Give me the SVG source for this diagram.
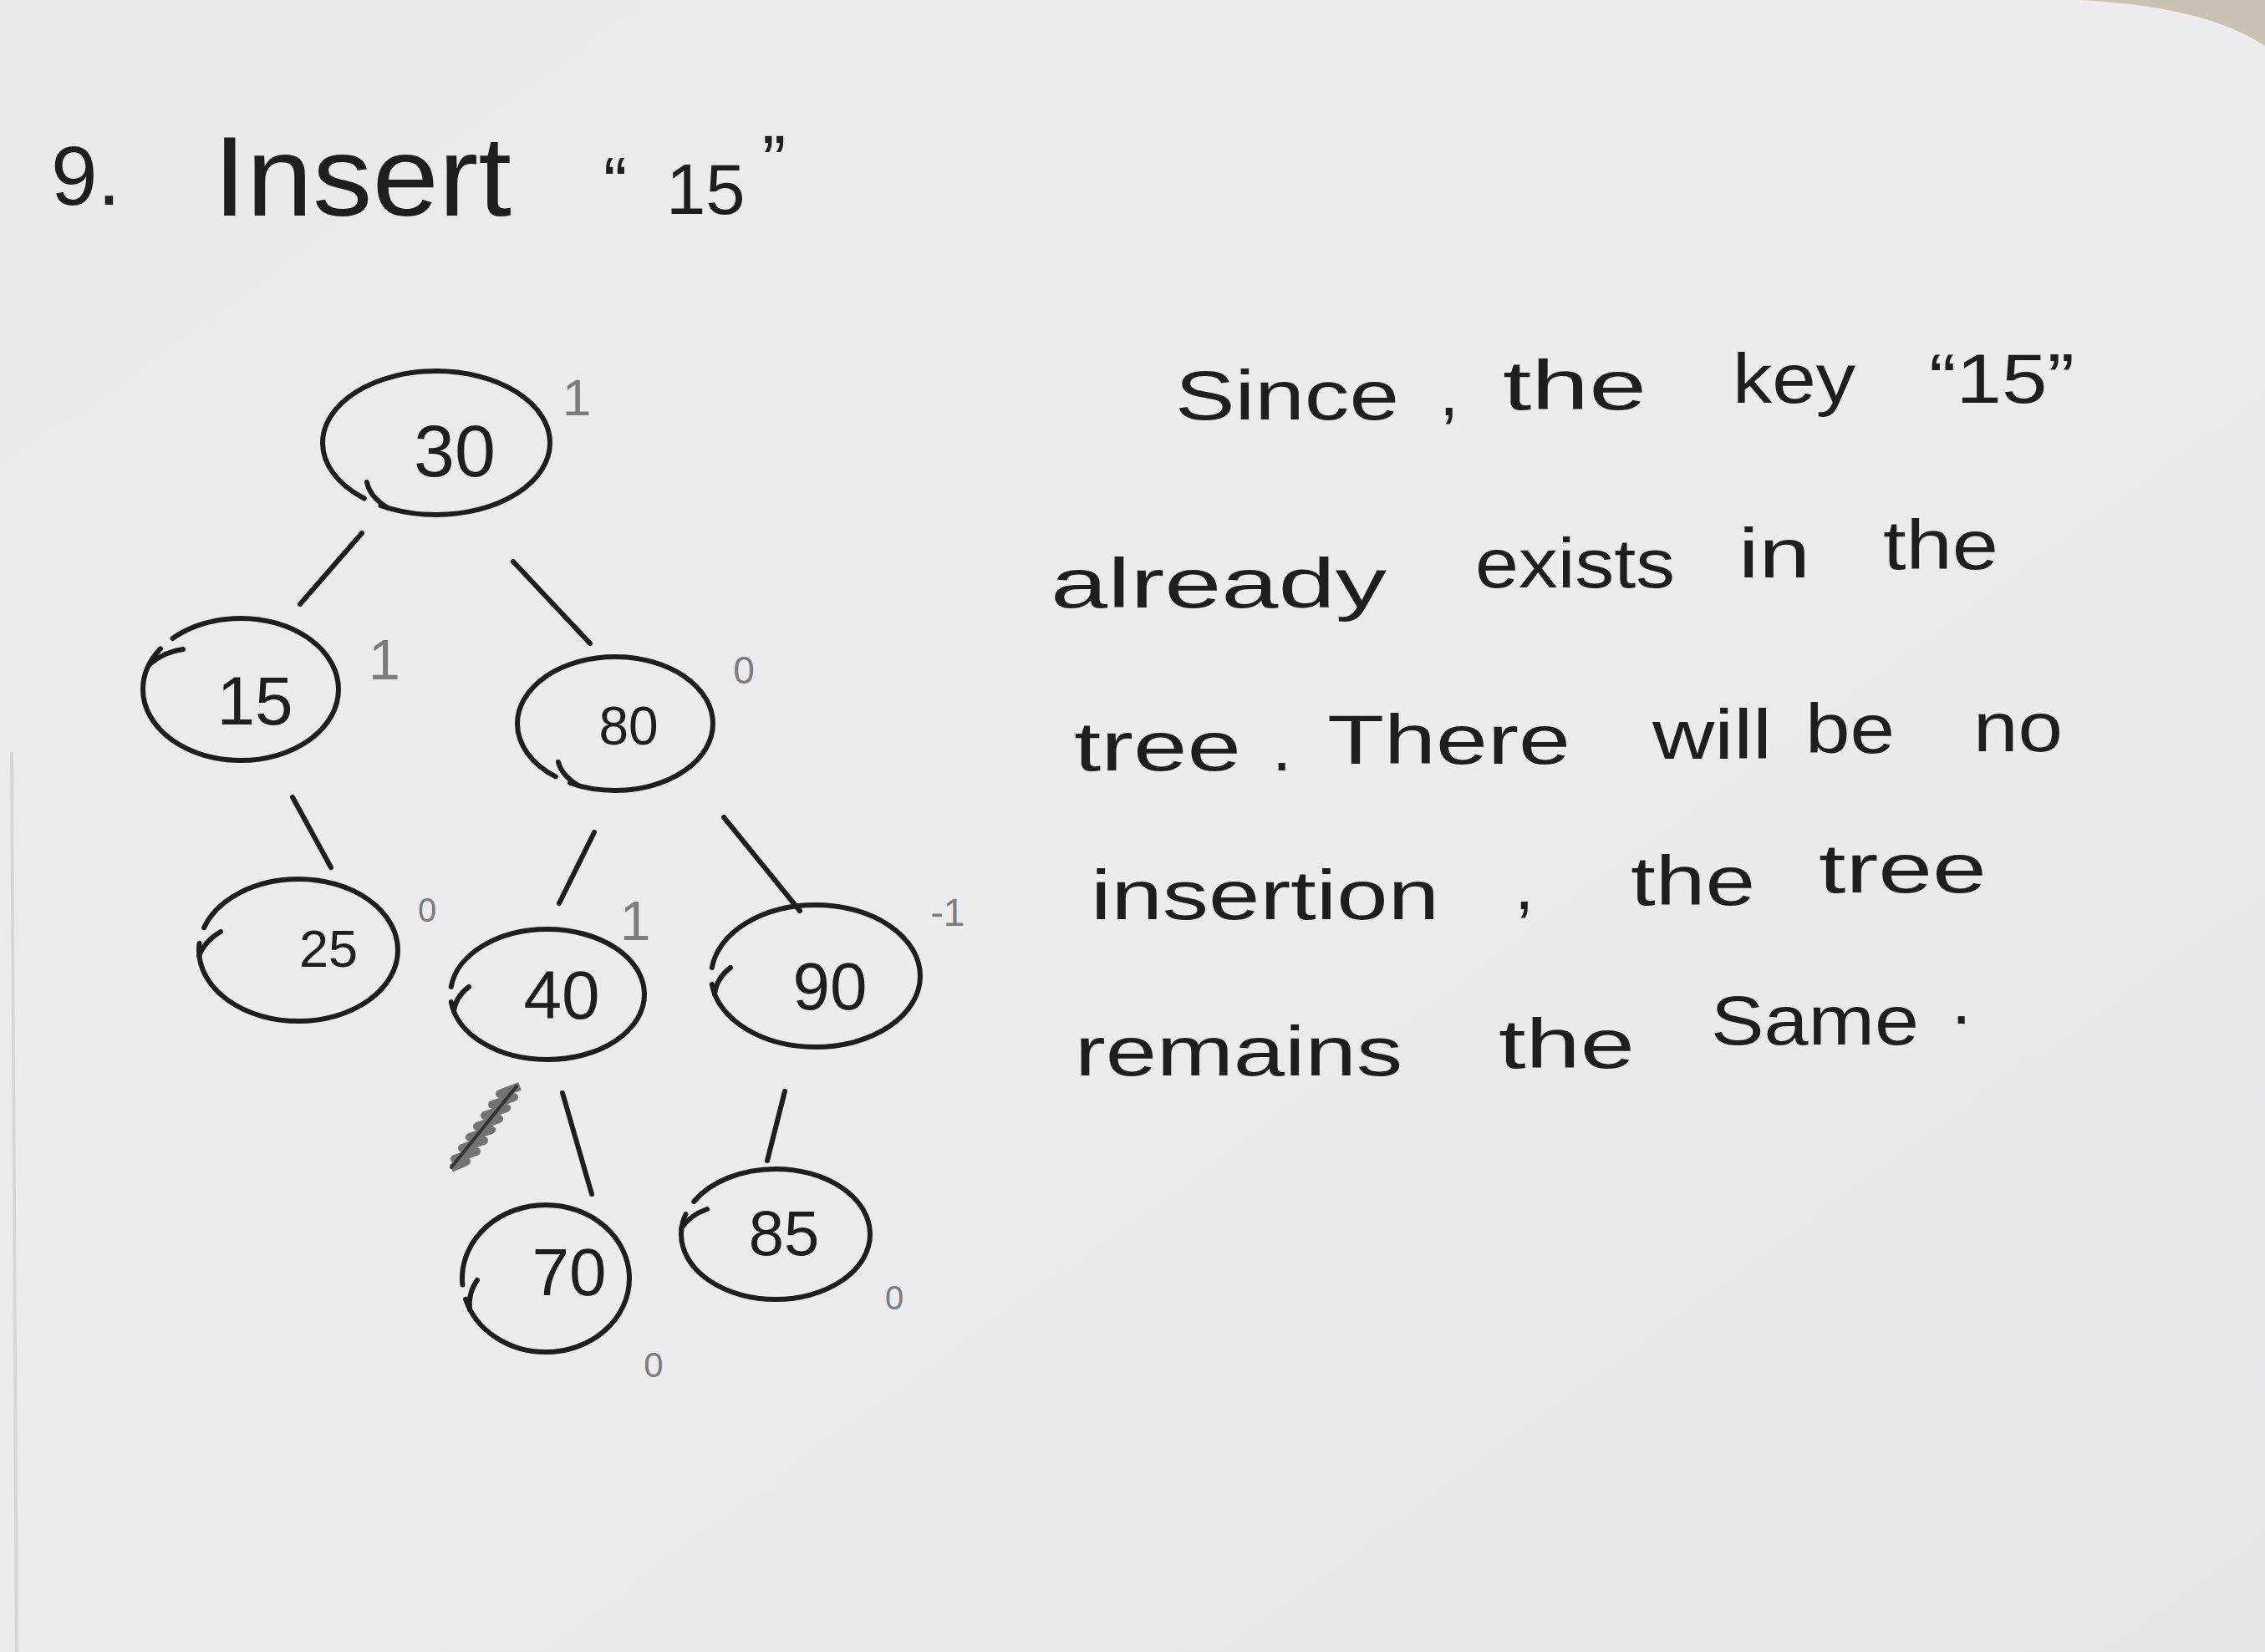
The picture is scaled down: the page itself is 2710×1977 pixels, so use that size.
<svg xmlns="http://www.w3.org/2000/svg" width="2710" height="1977" viewBox="0 0 2710 1977">
<defs>
<linearGradient id="paper" x1="0" y1="0" x2="1" y2="1">
<stop offset="0" stop-color="#eaeaec"/>
<stop offset="0.5" stop-color="#ececee"/>
<stop offset="1" stop-color="#e6e4e8"/>
</linearGradient>
<style>
.ink{fill:#1e1e20;font-family:"Liberation Sans",Arial,sans-serif}
.pencil{fill:#7c7c7e;font-family:"Liberation Sans",Arial,sans-serif;text-anchor:middle}
.label{fill:#1e1e20;font-family:"Liberation Sans",Arial,sans-serif;text-anchor:middle}
.ring{fill:none;stroke:#1e1e20;stroke-width:6;stroke-linecap:round;stroke-dasharray:97 3}
.hook{fill:none;stroke:#1e1e20;stroke-width:6;stroke-linecap:round}
.edge{stroke:#1e1e20;stroke-width:6;stroke-linecap:round}
.para{font-size:84px}
</style>
</defs>
<rect width="2710" height="1977" fill="url(#paper)"/>
<path d="M2490 0 Q2640 8 2710 55 L2710 0 Z" fill="#c9c1b4"/>
<path d="M14 900 L20 1977" stroke="#d8d6da" stroke-width="4" fill="none"/>

<g id="title">
<text class="ink" x="61" y="245" font-size="100">9.</text>
<text class="ink" x="255" y="258" font-size="135" textLength="357" lengthAdjust="spacingAndGlyphs">Insert</text>
<text class="ink" font-size="85"><tspan x="722" y="248">“</tspan><tspan x="797" y="256">15</tspan><tspan x="912" y="222">”</tspan></text>
</g>

<g id="connectors">
<line class="edge" x1="433" y1="638" x2="359" y2="723"/>
<line class="edge" x1="614" y1="672" x2="706" y2="770"/>
<line class="edge" x1="350" y1="954" x2="396" y2="1038"/>
<line class="edge" x1="711" y1="996" x2="669" y2="1081"/>
<line class="edge" x1="866" y1="978" x2="957" y2="1090"/>
<line class="edge" x1="673" y1="1308" x2="708" y2="1429"/>
<line class="edge" x1="939" y1="1306" x2="918" y2="1389"/>
</g>

<g id="node-30">
<ellipse class="ring" cx="522" cy="530" rx="136" ry="86" pathLength="100" stroke-dashoffset="62.4"/>
<path class="hook" d="M439 577 Q442 594 464 608"/>
<text class="label" x="544" y="570" font-size="88">30</text>
</g>
<g id="node-15">
<ellipse class="ring" cx="288" cy="825" rx="117" ry="85" pathLength="100" stroke-dashoffset="38.5"/>
<path class="hook" d="M219 777 Q196 780 179 795"/>
<text class="label" x="305" y="867" font-size="82">15</text>
</g>
<g id="node-80">
<ellipse class="ring" cx="736" cy="866" rx="117" ry="80" pathLength="100" stroke-dashoffset="63.2"/>
<path class="hook" d="M668 912 Q672 928 692 940"/>
<text class="label" x="752" y="891" font-size="64">80</text>
</g>
<g id="node-25">
<ellipse class="ring" cx="357" cy="1137" rx="119" ry="85" pathLength="100" stroke-dashoffset="45.7"/>
<path class="hook" d="M264 1115 Q245 1126 238 1144"/>
<text class="label" x="393" y="1157" font-size="63">25</text>
</g>
<g id="node-40">
<ellipse class="ring" cx="655" cy="1190" rx="116" ry="78" pathLength="100" stroke-dashoffset="48.5"/>
<path class="hook" d="M561 1181 Q545 1193 543 1210"/>
<text class="label" x="672" y="1219" font-size="82">40</text>
</g>
<g id="node-90">
<ellipse class="ring" cx="976" cy="1168" rx="125" ry="85" pathLength="100" stroke-dashoffset="48.5"/>
<path class="hook" d="M874 1158 Q857 1171 855 1190"/>
<text class="label" x="993" y="1208" font-size="80">90</text>
</g>
<g id="node-70">
<ellipse class="ring" cx="653" cy="1530" rx="100" ry="88" pathLength="100" stroke-dashoffset="51.3"/>
<path class="hook" d="M571 1532 Q560 1547 562 1567"/>
<text class="label" x="681" y="1550" font-size="80">70</text>
</g>
<g id="node-85">
<ellipse class="ring" cx="928" cy="1477" rx="113" ry="78" pathLength="100" stroke-dashoffset="42.9"/>
<path class="hook" d="M846 1447 Q826 1454 815 1470"/>
<text class="label" x="938" y="1502" font-size="76">85</text>
</g>

<g id="balance-factors">
<text class="pencil" x="690" y="497" font-size="62">1</text>
<text class="pencil" x="460" y="813" font-size="68">1</text>
<text class="pencil" x="890" y="818" font-size="46">0</text>
<text class="pencil" x="511" y="1103" font-size="40">0</text>
<text class="pencil" x="760" y="1125" font-size="66">1</text>
<text class="pencil" x="1134" y="1108" font-size="46">-1</text>
<text class="pencil" x="1070" y="1567" font-size="40">0</text>
<text class="pencil" x="782" y="1648" font-size="42">0</text>
</g>

<g id="scribble">
<path d="M622 1300 L598 1309 L615 1313 L589 1322 L606 1326 L580 1335 L597 1339 L571 1348 L588 1352 L562 1361 L579 1365 L553 1374 L570 1378 L544 1387 L558 1390 L540 1398" fill="none" stroke="#5e5e60" stroke-width="10" stroke-linejoin="round" opacity="0.85"/>
<line x1="618" y1="1300" x2="540" y2="1397" stroke="#343436" stroke-width="4" stroke-linecap="round"/>
</g>

<g id="explanation">
<text class="ink para" lengthAdjust="spacingAndGlyphs"><tspan x="1406" y="502" textLength="268" lengthAdjust="spacingAndGlyphs">Since</tspan><tspan x="1722" y="497">,</tspan> <tspan x="1798" y="490" textLength="172" lengthAdjust="spacingAndGlyphs">the</tspan> <tspan x="2073" y="482" textLength="147" lengthAdjust="spacingAndGlyphs">key</tspan> <tspan x="2308" y="482" textLength="174" lengthAdjust="spacingAndGlyphs">“15”</tspan></text>
<text class="ink para"><tspan x="1257" y="727" textLength="402" lengthAdjust="spacingAndGlyphs">already</tspan> <tspan x="1765" y="703" textLength="239" lengthAdjust="spacingAndGlyphs">exists</tspan> <tspan x="2080" y="691" textLength="86" lengthAdjust="spacingAndGlyphs">in</tspan> <tspan x="2253" y="681" textLength="138" lengthAdjust="spacingAndGlyphs">the</tspan></text>
<text class="ink para"><tspan x="1285" y="922" textLength="200" lengthAdjust="spacingAndGlyphs">tree</tspan><tspan x="1522" y="922">.</tspan> <tspan x="1588" y="914" textLength="291" lengthAdjust="spacingAndGlyphs">There</tspan> <tspan x="1977" y="908" textLength="143" lengthAdjust="spacingAndGlyphs">will</tspan> <tspan x="2160" y="901" textLength="107" lengthAdjust="spacingAndGlyphs">be</tspan> <tspan x="2361" y="899" textLength="107" lengthAdjust="spacingAndGlyphs">no</tspan></text>
<text class="ink para"><tspan x="1305" y="1100" textLength="417" lengthAdjust="spacingAndGlyphs">insertion</tspan><tspan x="1812" y="1088">,</tspan> <tspan x="1951" y="1083" textLength="149" lengthAdjust="spacingAndGlyphs">the</tspan> <tspan x="2176" y="1068" textLength="201" lengthAdjust="spacingAndGlyphs">tree</tspan></text>
<text class="ink para"><tspan x="1286" y="1287" textLength="392" lengthAdjust="spacingAndGlyphs">remains</tspan> <tspan x="1793" y="1278" textLength="163" lengthAdjust="spacingAndGlyphs">the</tspan> <tspan x="2047" y="1250" textLength="249" lengthAdjust="spacingAndGlyphs">Same</tspan><tspan x="2335" y="1225">.</tspan></text>
</g>
</svg>
